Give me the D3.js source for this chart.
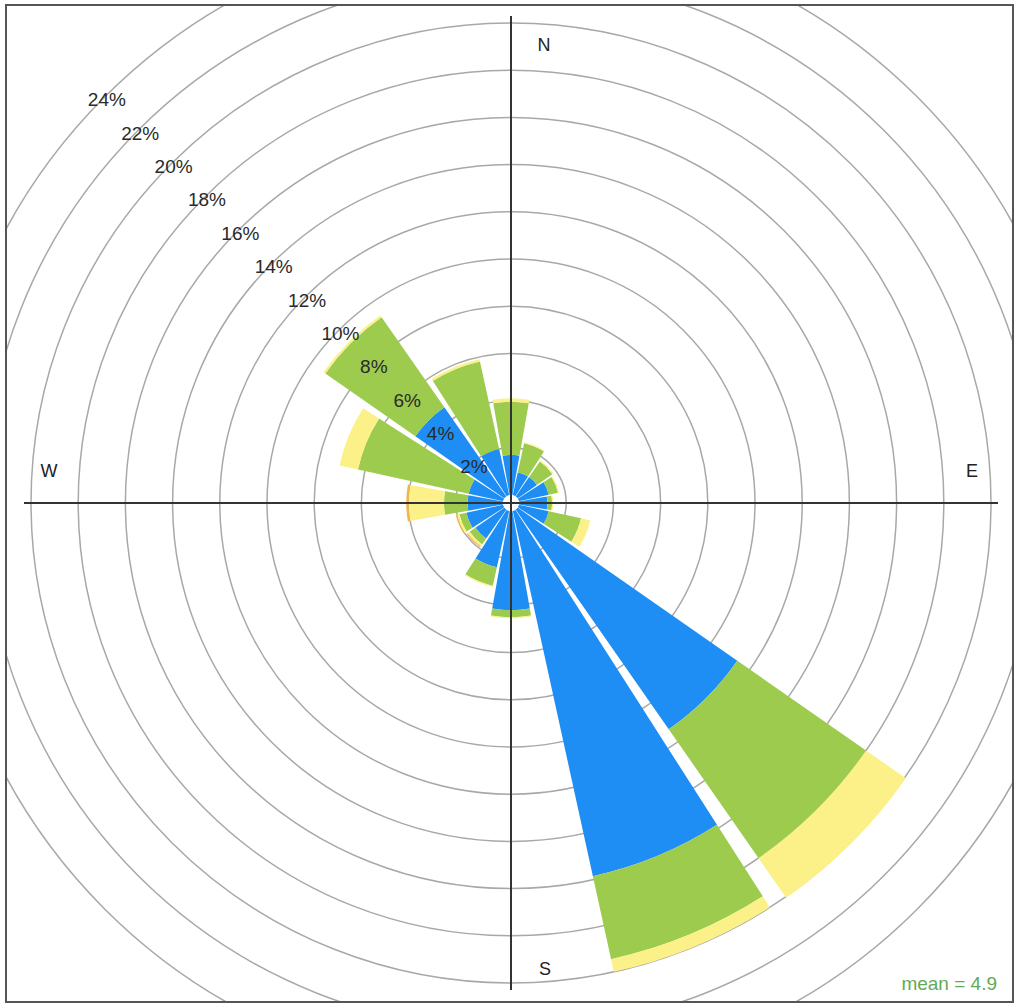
<!DOCTYPE html>
<html>
<head>
<meta charset="utf-8">
<script src="https://cdn.jsdelivr.net/npm/d3@7"></script>
<style>
  html, body { margin: 0; padding: 0; background: #fff; }
  svg { display: block; }
  text { font-family: "Liberation Sans", Arial, Helvetica, sans-serif; }
</style>
</head>
<body>
<svg id="rose" width="1020" height="1008"></svg>
<script>
// Wind directions (degrees clockwise from north), 16 sectors
const directions = [0, 22.5, 45, 67.5, 90, 112.5, 135, 157.5, 180, 202.5, 225, 247.5, 270, 292.5, 315, 337.5];

// Wind speed bands
const speedBands = ["0 to 2", "2 to 4", "4 to 6", "6 to 10"];

// Frequency (%) of each speed band per direction
const band1 = [1.7, 1.0, 1.0, 1.3, 1.2, 1.3, 11.35, 15.85, 4.2, 2.45, 1.5, 1.6, 1.5, 1.5, 4.6, 2.0];
const band2 = [2.25, 1.25, 0.8, 0.4, 0.2, 1.4, 6.65, 3.6, 0.3, 0.8, 0.3, 0.3, 1.0, 4.8, 4.65, 3.8];
const band3 = [0.15, 0.05, 0.05, 0.05, 0.05, 0.4, 2.05, 0.55, 0.05, 0.05, 0.1, 0.1, 1.5, 0.8, 0.1, 0.1];
const band4 = [0, 0, 0, 0, 0, 0, 0, 0, 0, 0, 0.05, 0.05, 0.1, 0, 0, 0];

const bandColours = ["#1e8ef5", "#9dcb4e", "#fbf188", "#f5b44a"];

// Grid rings (%) and their labels
const ringValues = [2, 4, 6, 8, 10, 12, 14, 16, 18, 20, 22, 24];
const ringLabels = ["2%", "4%", "6%", "8%", "10%", "12%", "14%", "16%", "18%", "20%", "22%", "24%"];

const compassLabels = ["N", "E", "S", "W"];
const meanSpeed = 4.9;

// ---- layout ----
const cx = 511, cy = 503;
const hole = 8;               // empty centre radius
const pxPerPct = 23.6;
const axisLen = 487;
const sectorFrac = 0.9;       // share of each 22.5° sector that is filled

const svg = d3.select("#rose");

const frame = { x: 6, y: 5, w: 1007, h: 997 };
svg.append("defs").append("clipPath").attr("id", "frameClip")
  .append("rect").attr("x", frame.x).attr("y", frame.y).attr("width", frame.w).attr("height", frame.h);

const r = d3.scaleLinear().domain([0, 24]).range([hole, hole + pxPerPct * 24]);

const g = svg.append("g").attr("clip-path", "url(#frameClip)");
const plot = g.append("g").attr("transform", `translate(${cx},${cy})`);

// grid rings
plot.append("g").selectAll("circle").data(ringValues).join("circle")
  .attr("r", d => r(d))
  .attr("fill", "none")
  .attr("stroke", "#a8a8a8")
  .attr("stroke-width", 1.5);

// stacked wedges
const bands = [band1, band2, band3, band4];
const segs = [];
directions.forEach((dir, i) => {
  let cum = 0;
  bands.forEach((b, k) => {
    const v = b[i];
    if (v > 0) segs.push({ dir, lo: cum, hi: cum + v, band: k });
    cum += v;
  });
});

const half = sectorFrac * 22.5 / 2;
const arc = d3.arc()
  .innerRadius(d => r(d.lo))
  .outerRadius(d => r(d.hi))
  .startAngle(d => (d.dir - half) * Math.PI / 180)
  .endAngle(d => (d.dir + half) * Math.PI / 180);

plot.append("g").selectAll("path").data(segs).join("path")
  .attr("d", arc)
  .attr("fill", d => bandColours[d.band]);

// centre hole
plot.append("circle").attr("r", hole).attr("fill", "#fff");

// cross axes
plot.append("line").attr("x1", -axisLen).attr("x2", axisLen).attr("y1", 0).attr("y2", 0)
  .attr("stroke", "#333").attr("stroke-width", 2);
plot.append("line").attr("x1", 0).attr("x2", 0).attr("y1", -axisLen).attr("y2", axisLen)
  .attr("stroke", "#333").attr("stroke-width", 2);

// ring labels along the north-west diagonal
const diag = Math.SQRT1_2;
plot.append("g").selectAll("text").data(ringLabels).join("text")
  .attr("x", (d, i) => -r(ringValues[i]) * diag + 2)
  .attr("y", (d, i) => -r(ringValues[i]) * diag + 3)
  .attr("text-anchor", "middle")
  .attr("dominant-baseline", "central")
  .attr("font-size", 19)
  .attr("fill", "#2a2a2a")
  .text(d => d);

// compass points
const compassPos = [
  { x: 33, y: -458 },
  { x: 461, y: -32 },
  { x: 34, y: 466 },
  { x: -462, y: -32 }
];
plot.append("g").selectAll("text").data(compassLabels).join("text")
  .attr("x", (d, i) => compassPos[i].x)
  .attr("y", (d, i) => compassPos[i].y)
  .attr("text-anchor", "middle")
  .attr("dominant-baseline", "central")
  .attr("font-size", 18)
  .attr("fill", "#222")
  .text(d => d);

// mean speed annotation
svg.append("text")
  .attr("x", 997).attr("y", 990)
  .attr("text-anchor", "end")
  .attr("font-size", 19)
  .attr("fill", "#62aa56")
  .text(`mean = ${meanSpeed}`);

// panel border
svg.append("rect")
  .attr("x", frame.x).attr("y", frame.y).attr("width", frame.w).attr("height", frame.h)
  .attr("fill", "none").attr("stroke", "#555").attr("stroke-width", 2);
</script>
</body>
</html>
